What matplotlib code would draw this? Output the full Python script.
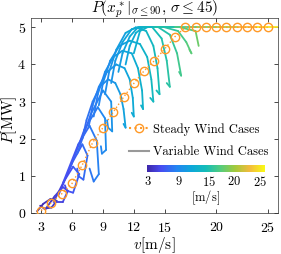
import numpy as np
import matplotlib
matplotlib.use('Agg')
import matplotlib.pyplot as plt
from matplotlib.collections import LineCollection
from matplotlib.colors import LinearSegmentedColormap, Normalize
from matplotlib.lines import Line2D
import matplotlib.cm as cm

plt.rcParams['mathtext.fontset'] = 'cm'
plt.rcParams['font.family'] = 'cmr10'
plt.rcParams['axes.formatter.use_mathtext'] = True

# steady wind cases
steady_v = list(range(3, 26))
steady_p = [0.07, 0.28, 0.52, 0.80, 1.30, 1.90, 2.30, 2.72, 3.12, 3.49, 3.83, 4.10,
            4.42, 4.75, 5.0, 5.0, 5.0, 5.0, 5.0, 5.0, 5.0, 5.0, 5.0]

# variable wind cases (v, P), one trajectory per list
loop_v = [
    [2.6, 3.2, 3.9, 4.5, 4.0, 3.3, 2.9],
    [3.4, 4.3, 5.1, 5.6, 5.1, 4.4, 4.2],
    [4.2, 5.2, 6.1, 6.7, 6.1, 5.5, 5.3],
    [4.7, 6.0, 7.0, 7.5, 7.1, 6.6, 6.5],
    [5.1, 6.6, 7.7, 8.4, 8.6, 8.1, 7.7],
    [5.8, 7.2, 8.5, 9.2, 9.3, 8.9, 8.8],
    [6.5, 7.8, 9.0, 9.8, 9.9, 9.5, 9.4],
    [7.0, 7.4, 8.0, 8.7, 9.5, 10.2, 10.7, 11.0, 11.2, 11.0],
    [7.6, 8.0, 8.6, 9.4, 10.3, 11.1, 11.6, 11.9, 12.0, 11.8],
    [8.1, 8.5, 9.2, 10.0, 10.9, 11.8, 12.4, 12.8, 12.9, 12.7],
    [8.6, 9.0, 9.7, 10.6, 11.6, 12.6, 13.3, 13.7, 13.9, 13.6],
    [9.2, 9.6, 10.3, 11.2, 12.2, 13.2, 13.9, 14.3, 14.5, 14.2],
    [9.8, 10.2, 10.9, 11.8, 12.6, 13.8, 14.7, 15.2, 15.5, 15.2],
    [10.5, 10.9, 11.6, 12.4, 13.0, 14.4, 15.5, 16.2, 16.6, 16.4],
    [11.2, 11.6, 12.2, 12.9, 13.4, 15.0, 16.3, 17.1, 17.6, 17.4],
    [12.0, 12.6, 13.3, 14.2, 16.5, 18.0, 18.3],
    [13.0, 14.0, 16.0, 18.0, 20.0, 22.0, 24.0, 26.0],
]
loop_p = [
    [0.05, 0.25, 0.38, 0.33, 0.15, 0.12, 0.20],
    [0.10, 0.45, 0.70, 0.60, 0.30, 0.30, 0.40],
    [0.30, 0.85, 1.25, 1.05, 0.55, 0.60, 0.75],
    [0.50, 1.35, 1.85, 1.55, 0.90, 1.00, 1.20],
    [0.80, 1.85, 2.35, 1.95, 1.05, 0.85, 1.20],
    [1.20, 2.25, 2.85, 2.55, 1.70, 1.60, 1.80],
    [1.60, 2.65, 3.30, 3.00, 2.20, 2.30, 2.50],
    [2.00, 2.50, 3.00, 3.40, 3.60, 3.50, 3.20, 2.80, 2.30, 2.40],
    [2.30, 2.90, 3.40, 3.80, 4.00, 3.90, 3.60, 3.10, 2.60, 2.70],
    [2.60, 3.20, 3.80, 4.20, 4.37, 4.30, 3.90, 3.30, 2.80, 2.90],
    [2.90, 3.50, 4.10, 4.50, 4.64, 4.55, 4.20, 3.60, 3.00, 3.10],
    [3.20, 3.80, 4.40, 4.85, 5.00, 4.90, 4.50, 3.90, 3.20, 3.30],
    [3.50, 4.10, 4.60, 4.95, 5.00, 5.00, 4.70, 4.10, 3.40, 3.50],
    [3.80, 4.30, 4.75, 5.00, 5.00, 5.00, 4.80, 4.30, 3.70, 3.80],
    [4.00, 4.50, 4.85, 5.00, 5.00, 5.00, 4.90, 4.60, 4.30, 4.40],
    [4.30, 4.90, 5.00, 5.00, 5.00, 4.90, 4.50],
    [5.00, 5.00, 5.00, 5.00, 5.00, 5.00, 5.00, 5.00],
]

cbar_ticks = [3, 9, 15, 20, 25]

# rough parula
parula = LinearSegmentedColormap.from_list('parula', [
    (0.00, (0.2422, 0.1504, 0.6603)),
    (0.12, (0.2790, 0.3000, 0.9500)),
    (0.25, (0.1400, 0.5200, 0.9500)),
    (0.38, (0.0500, 0.6600, 0.8500)),
    (0.50, (0.0800, 0.7400, 0.7200)),
    (0.62, (0.3200, 0.8000, 0.5000)),
    (0.75, (0.6400, 0.7900, 0.2300)),
    (0.87, (0.9500, 0.7300, 0.2400)),
    (1.00, (0.9769, 0.9839, 0.0805)),
])
norm = Normalize(vmin=2.8, vmax=26)

fig = plt.figure(figsize=(2.81, 2.54), dpi=100)
ax = fig.add_axes([0.11, 0.161, 0.879, 0.768])

for lv, lp in zip(loop_v, loop_p):
    pts = np.column_stack([lv, lp])
    segs = np.stack([pts[:-1], pts[1:]], axis=1)
    mid = 0.5 * (pts[:-1, 0] + pts[1:, 0])
    lc = LineCollection(segs, colors=parula(norm(mid)), linewidths=1.3,
                        capstyle='round', joinstyle='round')
    ax.add_collection(lc)

orange = (1.0, 0.6, 0.15)
ax.plot(steady_v, steady_p, ls=':', color=orange, lw=1.0, marker='o',
        ms=6, mfc='none', mec=orange, mew=1.0, zorder=5)

ax.set_xlim(2, 26)
ax.set_ylim(0, 5.25)
ax.set_xticks([3, 6, 9, 12, 15, 20, 25])
ax.set_yticks([0, 1, 2, 3, 4, 5])
ax.tick_params(direction='in', top=True, right=True, length=3, width=0.5,
               labelsize=10)
ax.tick_params(axis='x', pad=6)
for s in ax.spines.values():
    s.set_linewidth(0.5)
    s.set_color('0.2')
ax.set_xlabel(r'$v[\mathrm{m/s}]$', fontsize=11, labelpad=0)
ax.set_ylabel(r'$P[\mathrm{MW}]$', fontsize=11)
ax.yaxis.set_label_coords(-0.05, 0.48)
ax.set_title(r'$P(x_p^*|_{\sigma\leq90},\,\sigma\leq45)$', fontsize=11, pad=4)

handles = [Line2D([], [], ls=':', color=orange, marker='o', mfc='none', ms=6),
           Line2D([], [], ls='-', color='0.6', lw=1.5)]
fig.legend(handles, ['Steady Wind Cases', 'Variable Wind Cases'],
           loc='upper left', bbox_to_anchor=(0.46, 0.515), frameon=False,
           fontsize=9, handlelength=1.6, handletextpad=0.3, labelspacing=0.8,
           borderpad=0, borderaxespad=0)

cax = fig.add_axes([0.523, 0.323, 0.42, 0.028])
sm = cm.ScalarMappable(norm=norm, cmap=parula)
cb = fig.colorbar(sm, cax=cax, orientation='horizontal', ticks=cbar_ticks)
cb.outline.set_visible(False)
cb.ax.tick_params(length=0, labelsize=9, pad=2)
cb.set_label(r'$[\mathrm{m/s}]$', fontsize=9, labelpad=0)

fig.savefig('out.png', dpi=100)
